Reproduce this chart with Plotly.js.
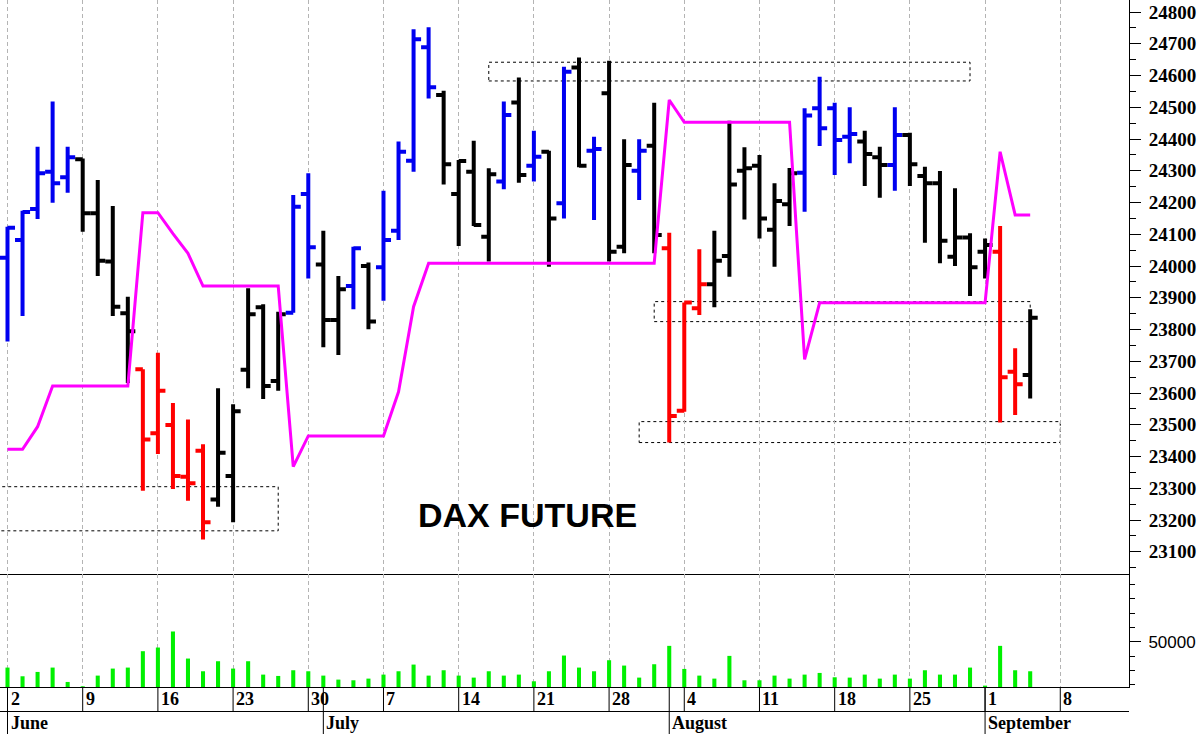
<!DOCTYPE html>
<html><head><meta charset="utf-8">
<script src="https://cdn.plot.ly/plotly-3.0.1.min.js"></script>
<style>html,body{margin:0;padding:0;background:#fff}#chart{width:1200px;height:734px}</style>
</head><body><div id="chart"></div>
<script>
// ---- data ----
const dates = [
 "2025-06-02","2025-06-03","2025-06-04","2025-06-05","2025-06-06","2025-06-09","2025-06-10","2025-06-11","2025-06-12","2025-06-13",
 "2025-06-16","2025-06-17","2025-06-18","2025-06-19","2025-06-20","2025-06-23","2025-06-24","2025-06-25","2025-06-26","2025-06-27",
 "2025-06-30","2025-07-01","2025-07-02","2025-07-03","2025-07-04","2025-07-07","2025-07-08","2025-07-09","2025-07-10","2025-07-11",
 "2025-07-14","2025-07-15","2025-07-16","2025-07-17","2025-07-18","2025-07-21","2025-07-22","2025-07-23","2025-07-24","2025-07-25",
 "2025-07-28","2025-07-29","2025-07-30","2025-07-31","2025-08-01","2025-08-04","2025-08-05","2025-08-06","2025-08-07","2025-08-08",
 "2025-08-11","2025-08-12","2025-08-13","2025-08-14","2025-08-15","2025-08-18","2025-08-19","2025-08-20","2025-08-21","2025-08-22",
 "2025-08-25","2025-08-26","2025-08-27","2025-08-28","2025-08-29","2025-09-01","2025-09-02","2025-09-03","2025-09-04"];
const futureDays = ["2025-09-05","2025-09-08"];
const open = [24026,24082,24180,24297,24280,24336,24166,24014,23851,23675,
 23473,23499,23336,23418,23265,23339,23673,23870,23638,23853,
 24227,24005,23830,23937,24000,23996,24111,24332,24689,24539,
 24227,24297,24092,24266,24515,24316,24360,24198,24625,24363,
 24544,24061,24300,24379,24056,23544,23867,23943,24032,24300,
 24316,24114,24195,24294,24497,24497,24407,24392,24343,24318,
 24413,24284,24261,24029,24090,24045,24045,23667,23657];
const high = [24124,24174,24376,24518,24376,24339,24271,24189,23903,23675,
 23727,23569,23517,23439,23615,23565,23930,23880,23856,24224,
 24292,24111,23969,24061,24011,24237,24392,24746,24752,24552,
 24334,24395,24308,24518,24594,24426,24363,24628,24657,24407,
 24647,24399,24399,24514,24105,23885,24053,24111,24458,24374,
 24350,24261,24309,24497,24596,24514,24500,24426,24376,24500,
 24420,24313,24299,24245,24103,24087,24126,23741,23864];
const low = [23762,23843,24148,24199,24231,24108,23969,23843,23632,23292,
 23408,23298,23261,23139,23242,23193,23615,23581,23607,23853,
 23961,23744,23720,23864,23801,23891,24082,24297,24528,24257,
 24063,24126,24014,24242,24262,24266,23998,24150,24311,24145,
 24014,24040,24208,24040,23444,23541,23846,23870,23966,24147,
 24087,23998,24126,24171,24378,24287,24324,24252,24215,24237,
 24252,24073,24009,24000,23906,23961,23507,23531,23583];
const close = [24121,24170,24292,24261,24343,24166,24017,23872,23795,23454,
 23607,23339,23316,23193,23412,23543,23848,23622,23848,24187,
 24059,23830,23927,24056,23825,24082,24360,24714,24563,24321,
 24331,24129,24289,24476,24287,24344,24150,24612,24316,24369,
 24045,24318,24363,24098,23528,23885,23943,24017,24257,24308,
 24150,24205,24292,24474,24434,24397,24416,24353,24318,24413,
 24321,24261,24080,24090,23996,24066,23650,23628,23837];
// trend state of each bar: B = bullish, K = neutral, R = bearish
const trend = ["B","B","B","B","B","K","K","K","K","R",
 "R","R","R","R","K","K","K","K","K","B",
 "B","K","K","B","K","B","B","B","B","K",
 "K","K","K","B","K","B","K","B","K","B",
 "K","K","B","K","R","R","R","K","K","K",
 "K","K","K","B","B","B","B","K","K","B",
 "K","K","K","K","K","K","R","R","K"];
const volume = [32076,26014,29043,32076,22049,19019,26482,31377,32076,43496,
 46063,57252,38370,29510,36503,31377,36503,27181,26245,30210,
 29510,26482,23685,23217,24383,27181,29510,34174,26482,30210,
 26482,25084,29510,26482,27181,22518,29510,40468,32076,29510,
 37203,33476,25084,34406,47224,31140,26482,24383,40231,23217,
 23217,26482,24383,27181,28342,25315,25084,27181,24383,27181,
 24383,30210,27181,27181,32076,19489,47224,30210,29510];
const stopLine = [23423,23423,23494,23622,23622,23622,23622,23622,23622,24168,
 24168,24102,24040,23937,23937,23937,23937,23937,23937,23368,
 23465,23465,23465,23465,23465,23465,23604,23872,24009,24009,
 24009,24009,24009,24009,24009,24009,24009,24009,24009,24009,
 24009,24009,24009,24009,24523,24453,24453,24453,24453,24453,
 24453,24453,24453,23706,23884,23884,23884,23884,23884,23884,
 23884,23884,23884,23884,23884,23884,24360,24161,24161];
// dotted zones: first/last day and price band
const zoneFrom = ["2025-05-28","2025-07-16","2025-07-31","2025-07-30"];
const zoneTo   = ["2025-06-26","2025-08-29","2025-09-04","2025-09-08"];
const zoneLow  = [23166,24583,23825,23444];
const zoneHigh = [23305,24642,23888,23510];
const dayTickLabels = ["2","9","16","23","30","7","14","21","28","4","11","18","25","1","8"];
const monthLabels = ["June","July","August","September"];
const chartTitle = "DAX FUTURE";

// ---- build ----
const axisDays = dates.concat(futureDays);
const pos = d => { const i = axisDays.indexOf(d); if (i >= 0) return i;
  return -Math.round((new Date(axisDays[0]) - new Date(d)) / 86400000 * 5 / 7); };
const xi = dates.map((d, i) => i);
const mondayIdx = axisDays.map((d, i) => i).filter(i => new Date(axisDays[i] + "T12:00:00Z").getUTCDay() === 1);
const monthIdx = axisDays.map((d, i) => i).filter(i => i === 0 || axisDays[i].slice(5,7) !== axisDays[i-1].slice(5,7)).slice(0, monthLabels.length);

const colorOf = {B: "#0000f0", K: "#000000", R: "#ff0000"};
const traces = [];
["B","K","R"].forEach(s => {
  const idx = xi.filter(i => trend[i] === s);
  const ln = {color: colorOf[s], width: 4};
  traces.push({type: "ohlc", x: idx, open: idx.map(i => open[i]), high: idx.map(i => high[i]),
    low: idx.map(i => low[i]), close: idx.map(i => close[i]), xaxis: "x", yaxis: "y",
    increasing: {line: ln}, decreasing: {line: ln}, tickwidth: 0.5, hoverinfo: "skip", showlegend: false});
});
traces.push({type: "scatter", mode: "lines", x: xi, y: stopLine, xaxis: "x", yaxis: "y",
  line: {color: "#ff00ff", width: 3}, hoverinfo: "skip", showlegend: false});
traces.push({type: "bar", x: xi, y: volume, xaxis: "x2", yaxis: "y2", width: 0.27,
  marker: {color: "#00f000", line: {width: 0}}, hoverinfo: "skip", showlegend: false});
traces.push({type: "scatter", mode: "markers", x: [0], y: [0], xaxis: "x3", yaxis: "y3",
  marker: {opacity: 0}, hoverinfo: "skip", showlegend: false});

const XR = [-0.4987, 74.57];
const H = 734;
const dMainLo = 1 - 574 / H, dVolLo = 1 - 687 / H;
const rowH = 734 - 711.5; const dateTop = 734 - 687;
const grid = {showgrid: true, gridcolor: "#b4b4b4", gridwidth: 1, griddash: "4px,3px"};
const serifB = {family: "Liberation Serif, Times New Roman, serif", size: 19, color: "#000", weight: "bold"};

const shapes = [];
zoneFrom.forEach((d, k) => shapes.push({type: "rect", xref: "x", yref: "y", layer: "below",
  x0: pos(zoneFrom[k]), x1: pos(zoneTo[k]), y0: zoneLow[k], y1: zoneHigh[k],
  line: {color: "#000", width: 1, dash: "dot"}, fillcolor: "rgba(0,0,0,0)"}));
shapes.push({type: "line", xref: "paper", yref: "y3", x0: 0, x1: 1, y0: rowH, y1: rowH, line: {color: "#000", width: 1}});
mondayIdx.forEach(i => shapes.push({type: "line", xref: "x3", yref: "y3", x0: i, x1: i, y0: rowH, y1: dateTop, line: {color: "#000", width: 1}}));
monthIdx.forEach(i => shapes.push({type: "line", xref: "x3", yref: "y3", x0: i, x1: i, y0: 0, y1: dateTop, line: {color: "#000", width: 1}}));

const annotations = [];
mondayIdx.forEach((i, k) => annotations.push({xref: "x3", yref: "y3", x: i, y: (rowH + dateTop) / 2, xanchor: "left", yanchor: "middle",
  xshift: 1, text: "<b>" + dayTickLabels[k] + "</b>", showarrow: false, font: {family: serifB.family, size: 18, color: "#000"}}));
monthIdx.forEach((i, k) => annotations.push({xref: "x3", yref: "y3", x: i, y: rowH / 2, xanchor: "left", yanchor: "middle",
  xshift: 1, text: "<b>" + monthLabels[k] + "</b>", showarrow: false, font: {family: serifB.family, size: 18, color: "#000"}}));
annotations.push({xref: "paper", yref: "paper", x: 527.5 / 1129, y: 1 - 515 / H, xanchor: "center", yanchor: "middle",
  text: "<b>" + chartTitle + "</b>", showarrow: false, font: {family: "Liberation Sans, Arial, sans-serif", size: 34, color: "#000"}});

const layout = {
  width: 1200, height: 734, margin: {l: 0, r: 71, t: 0, b: 0, pad: 0},
  paper_bgcolor: "#fff", plot_bgcolor: "#fff", showlegend: false, dragmode: false,
  xaxis: Object.assign({domain: [0, 1], range: XR, anchor: "y", tickmode: "array", tickvals: mondayIdx, showticklabels: false,
    ticks: "", zeroline: false, showline: true, linecolor: "#000", linewidth: 1, rangeslider: {visible: false}, fixedrange: true}, grid),
  xaxis2: Object.assign({domain: [0, 1], range: XR, anchor: "y2", matches: "x", tickmode: "array", tickvals: mondayIdx, showticklabels: false,
    ticks: "", zeroline: false, showline: true, linecolor: "#000", linewidth: 1, rangeslider: {visible: false}}, grid),
  xaxis3: {domain: [0, 1], range: XR, anchor: "y3", matches: "x", showgrid: false, showticklabels: false, ticks: "", zeroline: false, showline: false},
  yaxis: {domain: [dMainLo, 1], range: [23030, 24838], anchor: "x", side: "right", showgrid: false, zeroline: false,
    showline: true, linecolor: "#000", linewidth: 1, ticks: "outside", ticklen: 11, tickwidth: 1, tickcolor: "#000",
    tickmode: "linear", tick0: 0, dtick: 100, tickformat: "d", tickfont: serifB, ticklabelstandoff: 4,
    minor: {dtick: 50, tick0: 0, ticks: "outside", ticklen: 6, tickwidth: 1, tickcolor: "#000", showgrid: false}},
  yaxis2: {domain: [dVolLo, dMainLo], range: [18530, 97340], anchor: "x2", side: "right", showgrid: false, zeroline: false,
    showline: true, linecolor: "#000", linewidth: 1, ticks: "outside", ticklen: 11, tickwidth: 1, tickcolor: "#000",
    tickmode: "array", tickvals: [50000], ticktext: ["50000"], ticklabelstandoff: 4,
    tickfont: {family: "Liberation Sans, Arial, sans-serif", size: 17, color: "#000"},
    minor: {dtick: 10000, tick0: 0, ticks: "outside", ticklen: 5, tickwidth: 1, tickcolor: "#000", showgrid: false}},
  yaxis3: {domain: [0, dVolLo], range: [0, dateTop], anchor: "x3", visible: false, fixedrange: true},
  shapes: shapes, annotations: annotations
};
Plotly.newPlot("chart", traces, layout, {staticPlot: true, displayModeBar: false});
</script></body></html>
